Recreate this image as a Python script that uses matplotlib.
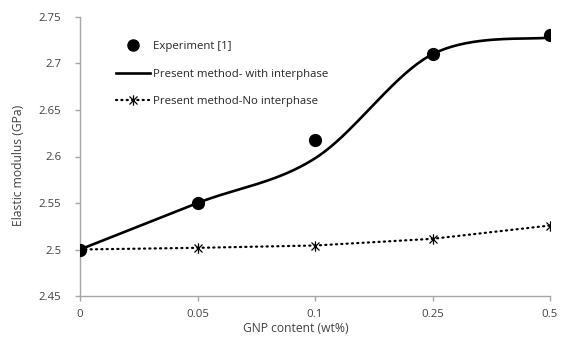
import numpy as np
import matplotlib
matplotlib.use("Agg")
import matplotlib.pyplot as plt
from matplotlib.path import Path
from matplotlib.lines import Line2D

categories = ["0", "0.05", "0.1", "0.25", "0.5"]
experiment = [2.50, 2.55, 2.618, 2.71, 2.731]
with_interphase = [2.50, 2.55, 2.598, 2.71, 2.728]
no_interphase = [2.50, 2.5018, 2.5043, 2.5115, 2.5258]
yticks = [2.45, 2.5, 2.55, 2.6, 2.65, 2.7, 2.75]
ytick_labels = ["2.45", "2.5", "2.55", "2.6", "2.65", "2.7", "2.75"]

plt.rcParams['font.family'] = ['Open Sans', 'DejaVu Sans']

def smooth(xs, ys, n=40, t=1/6):
    xs = np.asarray(xs, float); ys = np.asarray(ys, float)
    P = np.column_stack([xs, ys])
    out = [P[0]]
    m = len(P)
    for i in range(m - 1):
        p0 = P[i - 1] if i > 0 else P[i]
        p1 = P[i]; p2 = P[i + 1]
        p3 = P[i + 2] if i + 2 < m else P[i + 1]
        c1 = p1 + (p2 - p0) * t
        c2 = p2 - (p3 - p1) * t
        s = np.linspace(0, 1, n)[1:, None]
        seg = (1 - s) ** 3 * p1 + 3 * (1 - s) ** 2 * s * c1 + 3 * (1 - s) * s ** 2 * c2 + s ** 3 * p2
        out.extend(seg)
    out = np.array(out)
    return out[:, 0], out[:, 1]

star = Path([(-1, -1), (1, 1), (-1, 1), (1, -1), (0, -1.3), (0, 1.3)],
            [Path.MOVETO, Path.LINETO, Path.MOVETO, Path.LINETO, Path.MOVETO, Path.LINETO])

FS = 8.2
fig = plt.figure(figsize=(5.62, 3.42), dpi=100)
ax = fig.add_axes([80/562, 1-296/342, 470/562, 279/342])

x = np.arange(len(categories))
sx, sy = smooth(x, with_interphase)
ax.plot(sx, sy, color='black', lw=1.9, solid_capstyle='round', zorder=2)
dot = (0, (0.5, 1.9))
ax.plot(x, no_interphase, color='black', lw=1.6, linestyle=dot,
        dash_capstyle='round', zorder=2)
ax.plot(x, no_interphase, linestyle='none', marker=star, markersize=7.5,
        markeredgecolor='black', markerfacecolor='none', markeredgewidth=0.9, zorder=3)
ax.plot(x, experiment, linestyle='none', marker='o', markersize=8.5,
        color='black', zorder=4)

ax.set_xlim(0, len(categories) - 1)
ax.set_ylim(2.45, 2.75)
ax.set_xticks(x)
ax.set_xticklabels(categories)
ax.set_yticks(yticks)
ax.set_yticklabels(ytick_labels)
for s in ['top', 'right']:
    ax.spines[s].set_visible(False)
for s in ['left', 'bottom']:
    ax.spines[s].set_color('#a6a6a6')
    ax.spines[s].set_linewidth(1.0)
ax.tick_params(axis='both', colors='#a6a6a6', labelcolor='#404040', labelsize=FS,
               length=3.5, width=1.0)
ax.tick_params(axis='x', direction='out', length=3.5, pad=6)
ax.tick_params(axis='y', direction='out', pad=10)

fig.text(296/562, 1-329/342, "GNP content (wt%)", ha='center', va='center',
         fontsize=8.7, color='#404040')
fig.text(19/562, 1-165/342, "Elastic modulus (GPa)", ha='center', va='center',
         rotation=90, fontsize=8.7, color='#404040')

handles = [
    Line2D([], [], linestyle='none', marker='o', markersize=8, color='black'),
    Line2D([], [], color='black', lw=1.9),
    Line2D([], [], color='black', lw=1.6, linestyle=dot, dash_capstyle='round',
           marker=star, markersize=7.5, markeredgecolor='black', markerfacecolor='none',
           markeredgewidth=0.9),
]
labels = ["Experiment [1]", "Present method- with interphase", "Present method-No interphase"]
ax.legend(handles, labels, loc='upper left', bbox_to_anchor=(0.055, 0.95), frameon=False,
          fontsize=FS, handlelength=3.0, handletextpad=0.25, labelspacing=1.45,
          labelcolor='#262626')

fig.savefig("out.png", dpi=100)
